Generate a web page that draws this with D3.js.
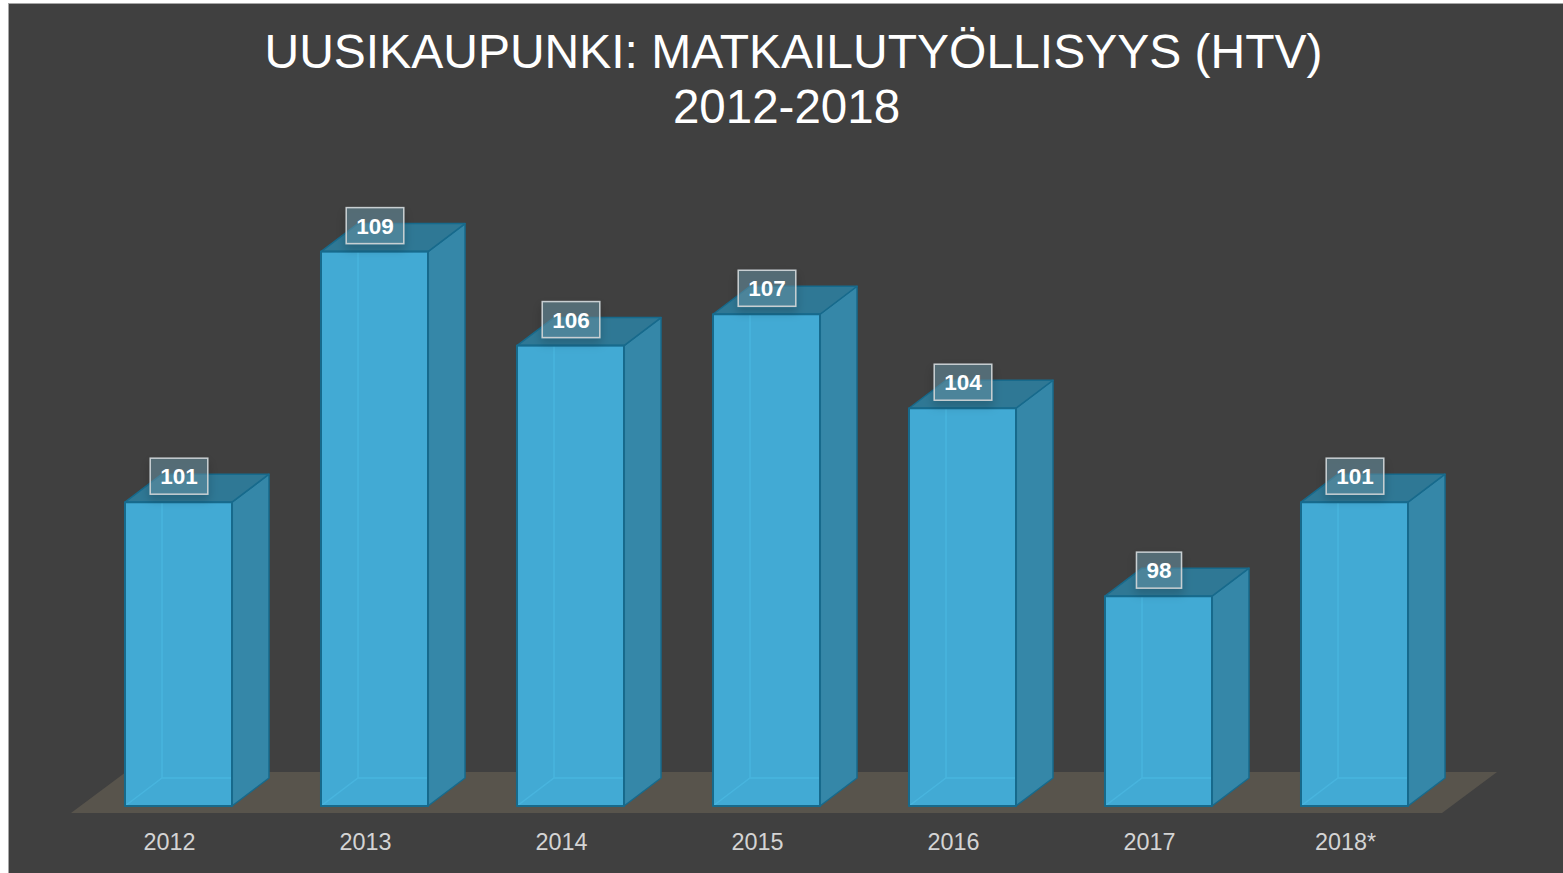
<!DOCTYPE html>
<html>
<head>
<meta charset="utf-8">
<script src="https://cdn.jsdelivr.net/npm/d3@7"></script>
<style>
html,body{margin:0;padding:0;background:#ffffff;}
svg{display:block;}
</style>
</head>
<body>
<svg id="chart" width="1563" height="873"></svg>
<script>
const categories = ["2012","2013","2014","2015","2016","2017","2018*"];
const values = [101,109,106,107,104,98,101];
const titleLines = ["UUSIKAUPUNKI: MATKAILUTYÖLLISYYS (HTV)","2012-2018"];

const svg = d3.select("#chart");
const W = 1563, H = 873;

// background panel
svg.append("rect").attr("x",0).attr("y",0).attr("width",W).attr("height",H).attr("fill","#ffffff");
svg.append("rect").attr("x",8.5).attr("y",3.5).attr("width",W).attr("height",H)
  .attr("fill","#404040").attr("stroke","#a6a6a6").attr("stroke-width",1);

const defs = svg.append("defs");
const f = defs.append("filter").attr("id","shadow").attr("x","-50%").attr("y","-50%").attr("width","200%").attr("height","200%");
f.append("feDropShadow").attr("dx",0).attr("dy",5).attr("stdDeviation",5).attr("flood-color","#000").attr("flood-opacity",0.3);

// scales
const x = d3.scaleBand().domain(categories).range([80.5, 1452.5]).paddingInner(0.454).paddingOuter(0.227);
const y = d3.scaleLinear().domain([91.3, 110]).range([806, 220.3]);
const base = y.range()[0];
const dx = 37, dy = -28;

// floor
const floorFront = base + 7, fdx = 55, fdy = -41;
const fx0 = 71, fx1 = 1442;
svg.append("path")
  .attr("d", `M${fx0},${floorFront}L${fx1},${floorFront}L${fx1+fdx},${floorFront+fdy}L${fx0+fdx},${floorFront+fdy}Z`)
  .attr("fill","#58544c");

// title
svg.append("text").attr("x",793.5).attr("y",68).attr("text-anchor","middle")
  .attr("font-family","Liberation Sans, Arial, sans-serif").attr("font-size",48).attr("fill","#ffffff")
  .text(titleLines[0]);
svg.append("text").attr("x",786.5).attr("y",123).attr("text-anchor","middle")
  .attr("font-family","Liberation Sans, Arial, sans-serif").attr("font-size",47.5).attr("fill","#ffffff")
  .text(titleLines[1]);

const edge = "#176a8c";
const data = categories.map((c,i)=>({c, v: values[i]}));

const bars = svg.append("g").selectAll("g").data(data).join("g");
bars.each(function(d){
  const g = d3.select(this);
  const x0 = x(d.c), w = x.bandwidth(), x1 = x0 + w;
  const t = y(d.v), b = base;
  // front face
  g.append("path").attr("d",`M${x0},${t}L${x1},${t}L${x1},${b}L${x0},${b}Z`).attr("fill","#42aad4");
  // hidden back edges seen through
  g.append("path").attr("d",`M${x0},${b}L${x0+dx},${b+dy}L${x1+dx},${b+dy}M${x0+dx},${b+dy}L${x0+dx},${t+dy}`)
    .attr("fill","none").attr("stroke","#4cb9e2").attr("stroke-width",1.5).attr("opacity",0.7);
  // side face
  g.append("path").attr("d",`M${x1},${t}L${x1+dx},${t+dy}L${x1+dx},${b+dy}L${x1},${b}Z`)
    .attr("fill","#3587a8").attr("stroke",edge).attr("stroke-width",1.5).attr("stroke-linejoin","round");
  // top face
  g.append("path").attr("d",`M${x0},${t}L${x0+dx},${t+dy}L${x1+dx},${t+dy}L${x1},${t}Z`)
    .attr("fill","#2f7895").attr("stroke",edge).attr("stroke-width",1.5).attr("stroke-linejoin","round");
  // front outline
  g.append("path").attr("d",`M${x0},${t}L${x1},${t}L${x1},${b}L${x0},${b}Z`)
    .attr("fill","none").attr("stroke",edge).attr("stroke-width",2).attr("stroke-linejoin","round");
});

// category labels
svg.append("g").selectAll("text").data(data).join("text")
  .attr("x", d => x(d.c) + x.bandwidth()/2 - 9)
  .attr("y", 850)
  .attr("text-anchor","middle")
  .attr("font-family","Liberation Sans, Arial, sans-serif").attr("font-size",23.4)
  .attr("fill","#d4d4d4")
  .text(d => d.c);

// data labels
const lab = svg.append("g").selectAll("g").data(data).join("g");
lab.each(function(d){
  const g = d3.select(this);
  const cx = x(d.c) + x.bandwidth()/2 + 0.5;
  const cy = y(d.v) - 26;
  const txt = g.append("text").attr("x",cx).attr("y",cy+8)
    .attr("text-anchor","middle").attr("font-family","Liberation Sans, Arial, sans-serif")
    .attr("font-weight","bold").attr("font-size",22.5).attr("fill","#ffffff").text(d.v);
  const tw = txt.node().getComputedTextLength();
  const bw = tw + 20, bh = 36;
  g.insert("rect","text").attr("x",cx-bw/2).attr("y",cy-bh/2).attr("width",bw).attr("height",bh)
    .attr("fill","#6a95a8").attr("fill-opacity",0.5)
    .attr("stroke","#c8cfd2").attr("stroke-width",1.5).attr("filter","url(#shadow)");
});
</script>
</body>
</html>
